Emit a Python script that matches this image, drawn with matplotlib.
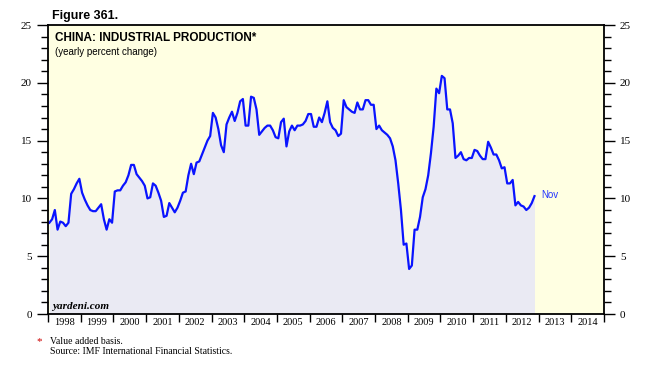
import numpy as np
import matplotlib.pyplot as plt
from matplotlib.ticker import MultipleLocator, FixedLocator, NullFormatter

# China industrial production, yearly % change, monthly values Jan 1998 - Nov 2012
ip_1998 = [7.9, 8.2, 9.0, 7.3, 8.0, 7.9, 7.6, 7.9, 10.4, 10.8, 11.3, 11.7]
ip_1999 = [10.5, 9.9, 9.4, 9.0, 8.9, 8.9, 9.2, 9.5, 8.2, 7.3, 8.2, 7.9]
ip_2000 = [10.6, 10.7, 10.7, 11.1, 11.4, 12.0, 12.9, 12.9, 12.1, 11.8, 11.5, 11.1]
ip_2001 = [10.0, 10.1, 11.3, 11.1, 10.5, 9.8, 8.4, 8.5, 9.6, 9.2, 8.8, 9.2]
ip_2002 = [9.8, 10.5, 10.6, 12.0, 13.0, 12.1, 13.1, 13.2, 13.8, 14.4, 15.0, 15.4]
ip_2003 = [17.4, 17.0, 16.0, 14.6, 14.0, 16.4, 17.0, 17.5, 16.7, 17.4, 18.4, 18.6]
ip_2004 = [16.3, 16.3, 18.8, 18.7, 17.7, 15.5, 15.8, 16.1, 16.3, 16.3, 15.9, 15.3]
ip_2005 = [15.2, 16.6, 16.9, 14.5, 15.8, 16.3, 15.9, 16.3, 16.3, 16.4, 16.7, 17.3]
ip_2006 = [17.3, 16.2, 16.2, 17.0, 16.6, 17.4, 18.4, 16.6, 16.1, 15.9, 15.4, 15.6]
ip_2007 = [18.5, 17.9, 17.7, 17.5, 17.4, 18.3, 17.7, 17.7, 18.5, 18.5, 18.1, 18.1]
ip_2008 = [16.0, 16.3, 15.9, 15.7, 15.5, 15.2, 14.5, 13.3, 11.3, 9.0, 6.0, 6.1]
ip_2009 = [3.9, 4.2, 7.3, 7.3, 8.4, 10.1, 10.8, 12.0, 13.9, 16.2, 19.5, 19.1]
ip_2010 = [20.6, 20.4, 17.7, 17.7, 16.5, 13.5, 13.7, 14.0, 13.4, 13.3, 13.5, 13.5]
ip_2011 = [14.2, 14.1, 13.7, 13.4, 13.4, 14.9, 14.4, 13.8, 13.8, 13.3, 12.6, 12.7]
ip_2012 = [11.3, 11.3, 11.6, 9.4, 9.7, 9.4, 9.3, 9.0, 9.2, 9.6, 10.2]

start_year = 1998
year_labels = [str(y) for y in range(1998, 2015)]

vals = np.array(ip_1998 + ip_1999 + ip_2000 + ip_2001 + ip_2002 + ip_2003 + ip_2004 +
                ip_2005 + ip_2006 + ip_2007 + ip_2008 + ip_2009 + ip_2010 + ip_2011 + ip_2012)
x = start_year + (np.arange(len(vals)) + 0.5) / 12.0

fig = plt.figure(figsize=(6.56, 3.83), dpi=100)
ax = fig.add_axes([0.0732, 0.180, 0.8475, 0.7547])
ax.set_facecolor('#FFFFE2')

ax.fill_between(x, 0, vals, color='#EAEAF3', lw=0)
ax.plot(x, vals, color='#0A14FF', lw=1.6)
ax.text(x[-1] + 0.22, vals[-1] + 0.1, 'Nov', color='#2233FF', fontsize=7,
        family='Liberation Sans', va='center', ha='left')

ax.set_xlim(1998, 2015)
ax.set_ylim(0, 25)

for s in ax.spines.values():
    s.set_linewidth(1.3)

# y axis both sides
ax.yaxis.set_major_locator(MultipleLocator(5))
ax.yaxis.set_minor_locator(MultipleLocator(1))
ax.tick_params(axis='y', which='both', direction='out', left=True, right=True,
               labelleft=True, labelright=True, labelsize=8, width=1)
ax.tick_params(axis='y', which='major', length=8)
ax.tick_params(axis='y', which='minor', length=5)

# x axis: ticks at year edges, labels in the middle
ax.xaxis.set_major_locator(FixedLocator(np.arange(1998, 2016)))
ax.xaxis.set_major_formatter(NullFormatter())
ax.xaxis.set_minor_locator(FixedLocator(np.arange(1998, 2015) + 0.5))
ax.set_xticklabels(year_labels, minor=True)
ax.tick_params(axis='x', which='major', direction='out', length=6, width=1)
ax.tick_params(axis='x', which='minor', length=0, labelsize=7.5, pad=3)

for lab in ax.get_xticklabels(minor=True) + ax.get_yticklabels():
    lab.set_family('Liberation Serif')
for lab in ax.yaxis.get_ticklabels(which='major'):
    lab.set_family('Liberation Serif')

ax.text(0.012, 0.975, 'CHINA: INDUSTRIAL PRODUCTION*', transform=ax.transAxes,
        fontsize=8.5, fontweight='bold', family='Liberation Sans', va='top', ha='left')
ax.text(0.012, 0.925, '(yearly percent change)', transform=ax.transAxes,
        fontsize=7, family='Liberation Sans', va='top', ha='left')
ax.text(0.008, 0.01, 'yardeni.com', transform=ax.transAxes, fontsize=8,
        fontweight='bold', fontstyle='italic', family='Liberation Serif',
        va='bottom', ha='left')

fig.text(52 / 656, 1 - 16 / 383, 'Figure 361.', fontsize=9, fontweight='bold',
         family='Liberation Sans', va='center', ha='left')
fig.text(36 / 656, 1 - 342 / 383, '*', color='#CC0000', fontsize=8,
         family='Liberation Serif', va='center', ha='left')
fig.text(50 / 656, 1 - 342 / 383, 'Value added basis.', fontsize=7,
         family='Liberation Serif', va='center', ha='left')
fig.text(50 / 656, 1 - 352 / 383, 'Source: IMF International Financial Statistics.',
         fontsize=7, family='Liberation Serif', va='center', ha='left')

fig.savefig('out.png', dpi=100)
